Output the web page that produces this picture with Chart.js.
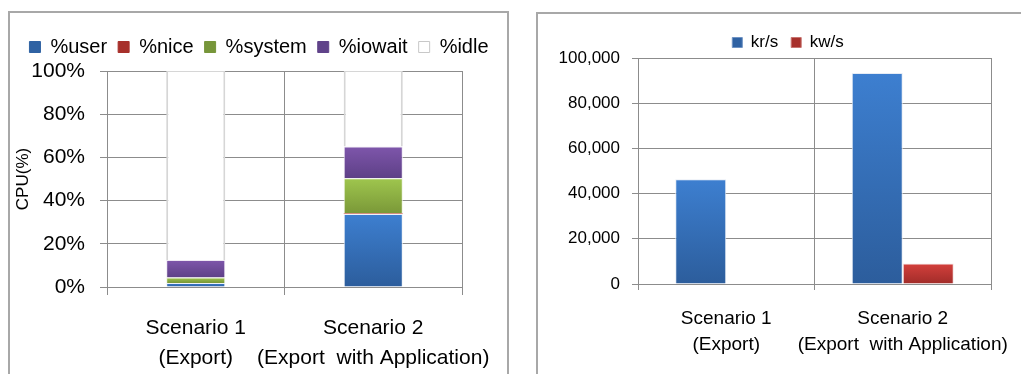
<!DOCTYPE html>
<html>
<head>
<meta charset="utf-8">
<script src="https://cdn.jsdelivr.net/npm/chart.js@4.4.1/dist/chart.umd.min.js"></script>
<style>
  body { margin: 0; background: #fff; width: 1021px; height: 374px; overflow: hidden; position: relative; }
  .box { position: absolute; border: 2px solid #a8a8a8; border-bottom: none; }
  #boxL { left: 8px; top: 11px; width: 497px; height: 370px; }
  #boxR { left: 536px; top: 12px; width: 500px; height: 370px; }
  canvas { position: absolute; }
  #cpuChart { left: 10px; top: 13px; }
  #ioChart { left: 538px; top: 14px; }
</style>
</head>
<body>
<div class="box" id="boxL"></div>
<div class="box" id="boxR"></div>
<canvas id="cpuChart" width="495" height="361" style="width:495px;height:361px"></canvas>
<canvas id="ioChart" width="483" height="360" style="width:483px;height:360px"></canvas>
<script>
// categories, shared by both charts
const scenarios = [['Scenario 1', '(Export)'], ['Scenario 2', '(Export  with Application)']];

// left chart: cpu usage (%)
const cpuUser = [1.8, 33.8];
const cpuNice = [0.1, 0.2];
const cpuSystem = [2.5, 16.4];
const cpuIowait = [8.1, 14.6];
const cpuIdle = [87.5, 35.0];

// right chart: disk throughput
const krPerSec = [46300, 93400];
const kwPerSec = [300, 9100];

Chart.defaults.font.family = "'Liberation Sans', Arial, sans-serif";
Chart.defaults.color = '#000';
Chart.defaults.animation = false;

const gridColor = '#8c8c8c';

// vertical gradient for each bar segment, lighter on top
function barGradient(top, bottom, seriesBelow) {
  return function (c) {
    const chart = c.chart;
    if (!chart.chartArea || c.type !== 'data') return top;
    const i = c.dataIndex;
    let base = 0;
    (seriesBelow || []).forEach(s => { base += s[i]; });
    const y = chart.scales.y;
    const y0 = y.getPixelForValue(base);
    const y1 = y.getPixelForValue(base + c.dataset.data[i]);
    if (!isFinite(y0) || !isFinite(y1) || Math.abs(y0 - y1) < 1) return top;
    const g = chart.ctx.createLinearGradient(0, y1, 0, y0);
    g.addColorStop(0, top);
    g.addColorStop(1, bottom);
    return g;
  };
}

function flatLegend(colors, borders) {
  return function (chart) {
    return chart.data.datasets.map((ds, i) => ({
      text: ds.label,
      fillStyle: colors[i],
      strokeStyle: borders[i],
      lineWidth: 1,
      hidden: false,
      datasetIndex: i
    }));
  };
}

// empty axis on the right, only keeps the plot narrower than the legend row
function spacerAxis(w) {
  return {
    position: 'right',
    display: true,
    grid: { display: false, drawTicks: false },
    border: { display: false },
    ticks: { display: false },
    afterFit: s => { s.width = w; }
  };
}

// fixed height for the category axis, and no extra room for the long label
function categoryFit(h) {
  return s => {
    s.height = h;
    s.paddingLeft = 0;
    s.paddingRight = 0;
  };
}

new Chart(document.getElementById('cpuChart'), {
  type: 'bar',
  data: {
    labels: scenarios,
    datasets: [
      { label: '%user', data: cpuUser, backgroundColor: barGradient('#3d7fd0', '#2c5d9c', []), borderColor: '#eef2f8', borderWidth: 1 },
      { label: '%nice', data: cpuNice, backgroundColor: barGradient('#cc3b36', '#a02b27', [cpuUser]), borderColor: '#f4eaea', borderWidth: 0 },
      { label: '%system', data: cpuSystem, backgroundColor: barGradient('#9fc64e', '#7a9838', [cpuUser, cpuNice]), borderColor: '#eef4e2', borderWidth: 1 },
      { label: '%iowait', data: cpuIowait, backgroundColor: barGradient('#7e56ab', '#5e4087', [cpuUser, cpuNice, cpuSystem]), borderColor: '#eee8f4', borderWidth: 1 },
      { label: '%idle', data: cpuIdle, backgroundColor: '#ffffff', borderColor: '#d6d6d6', borderWidth: { left: 2, right: 2, top: 1, bottom: 0 } }
    ]
  },
  options: {
    responsive: false,
    layout: { padding: { top: 13, left: 3, right: 0, bottom: 0 } },
    datasets: { bar: { categoryPercentage: 1, barPercentage: 0.333 } },
    plugins: {
      tooltip: { enabled: false },
      // blank title under the legend, just a small gap before the plot
      title: { display: true, text: ' ', weight: 900, font: { size: 1, lineHeight: 1 }, padding: { top: 3, bottom: 0 } },
      legend: {
        position: 'top',
        labels: {
          font: { size: 20 },
          boxWidth: 11,
          boxHeight: 11,
          padding: 11,
          generateLabels: flatLegend(['#2f62a3', '#a7302b', '#77963a', '#60438a', '#ffffff'], ['#2f62a3', '#a7302b', '#77963a', '#60438a', '#c8c8c8'])
        }
      }
    },
    scales: {
      x: {
        stacked: true,
        grid: { color: gridColor, tickLength: 8, offset: true },
        border: { color: gridColor },
        ticks: { font: { size: 21, lineHeight: 1.43 }, padding: 18, maxRotation: 0, autoSkip: false },
        afterFit: categoryFit(87)
      },
      y: {
        stacked: true,
        min: 0,
        max: 100,
        grid: { color: gridColor, tickLength: 7 },
        border: { color: gridColor },
        ticks: { stepSize: 20, font: { size: 21 }, padding: 15, callback: v => v + '%' },
        title: { display: true, text: 'CPU(%)', font: { size: 17 }, padding: { top: 0, bottom: 0 } },
        afterFit: s => { s.width = 94; }
      },
      pad: spacerAxis(43)
    }
  }
});

new Chart(document.getElementById('ioChart'), {
  type: 'bar',
  data: {
    labels: scenarios,
    datasets: [
      { label: 'kr/s', data: krPerSec, backgroundColor: barGradient('#3d7fd0', '#2c5d9c', []), borderColor: '#e6ecf5', borderWidth: 1 },
      { label: 'kw/s', data: kwPerSec, backgroundColor: barGradient('#d4403c', '#a12c29', []), borderColor: '#f2e2e2', borderWidth: 1 }
    ]
  },
  options: {
    responsive: false,
    layout: { padding: { top: 7, left: 17, right: 0, bottom: 0 } },
    datasets: { bar: { categoryPercentage: 0.578, barPercentage: 1 } },
    plugins: {
      tooltip: { enabled: false },
      legend: {
        position: 'top',
        maxHeight: 37,
        labels: {
          font: { size: 17 },
          boxWidth: 10,
          boxHeight: 10,
          padding: 13,
          generateLabels: flatLegend(['#2f62a3', '#a7302b'], ['#6f93c4', '#c77470'])
        }
      }
    },
    scales: {
      x: {
        grid: { color: gridColor, tickLength: 6, offset: true },
        border: { color: gridColor },
        ticks: { font: { size: 19, lineHeight: 1.35 }, padding: 16, maxRotation: 0, autoSkip: false },
        afterFit: categoryFit(90)
      },
      y: {
        min: 0,
        max: 100000,
        grid: { color: gridColor, tickLength: 6 },
        border: { color: gridColor },
        ticks: { stepSize: 20000, font: { size: 17 }, padding: 12, callback: v => v.toLocaleString('en-US') },
        afterFit: s => { s.width = 83; }
      },
      pad: spacerAxis(30)
    }
  }
});
</script>
</body>
</html>
